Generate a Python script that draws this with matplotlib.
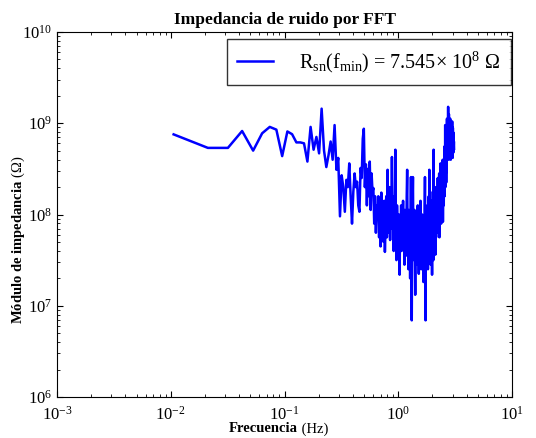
import matplotlib
matplotlib.use("Agg")
import matplotlib.pyplot as plt
import numpy as np

# FFT bin spacing (Hz) and |Z| per bin as log10 values
df = 0.0106
log_z = [
    # low frequencies
    8.878, 8.73, 8.73, 8.915, 8.70, 8.89, 8.96, 8.93, 8.64, 8.91, 8.88, 8.79, 8.79,
    8.78, 8.58, 8.96, 8.71, 8.85, 8.67, 9.16, 8.70, 8.52, 8.65, 8.80, 8.60, 8.98,
    8.49, 8.62, 7.98, 8.43, 8.30, 8.03, 8.38, 8.30, 8.56, 8.20, 7.90, 8.25, 8.45,
    8.30, 8.36, 8.10, 8.03, 8.51, 8.40, 8.83,
    # ~0.5 - 1 Hz
    8.94, 8.30, 8.55, 8.10, 8.50, 8.20, 8.58, 8.05, 8.45, 8.25, 8.29, 7.90, 8.20,
    7.80, 8.10, 7.95,
    8.20, 7.75, 8.05, 7.65, 8.24, 7.85, 8.00, 7.70, 8.15, 7.59, 7.90, 8.20, 7.75,
    8.49, 7.95, 7.80,
    8.30, 7.72, 8.10, 7.85, 8.63, 7.90, 8.05, 7.60, 8.20, 7.95, 8.71, 7.80, 7.50,
    8.10, 7.85, 8.00, 7.70,
    # ~1 - 1.3 Hz
    7.90, 7.34, 8.00, 7.70, 8.10, 7.60, 7.95, 7.80, 8.15, 7.65, 7.85, 7.45, 8.05,
    7.75, 7.95, 7.55, 8.20, 8.49, 7.70, 7.90, 7.40, 8.05, 7.60, 7.85, 7.30, 7.95,
    8.41, 7.75,
    # ~1.3 - 1.7 Hz
    6.84, 7.80, 8.10, 8.41, 7.70, 7.95, 7.50, 8.05, 7.65, 7.12, 7.85, 7.60, 8.00,
    7.45, 7.90, 7.70, 8.10, 7.55, 7.80, 7.35, 7.95, 7.65, 7.85, 7.50, 8.15, 7.70,
    7.40, 7.90, 7.60, 8.00, 7.75, 7.45, 7.85, 7.26, 7.70, 7.95, 7.55, 8.05, 8.41,
    7.65,
    # ~1.7 - 2.2 Hz
    6.84, 7.70, 8.00, 7.50, 7.85, 7.60, 8.10, 7.75, 7.40, 7.95, 7.65, 8.20, 7.80,
    8.49, 7.55, 7.90, 7.70, 8.05, 7.45, 7.85, 7.60, 8.15, 7.75, 7.34, 7.95, 7.65,
    8.25, 7.80, 7.50, 8.71, 7.90, 7.70, 8.10, 7.60, 7.85, 8.30, 7.56, 7.95, 8.20,
    7.75, 8.05, 7.85,
    # ~2.2 - 2.65 Hz
    8.10, 7.80, 8.25, 7.95, 8.40, 7.85, 8.15, 7.90, 8.30, 8.00, 8.45, 7.75, 8.20,
    8.05, 8.35, 7.95, 8.56, 8.10, 8.25, 7.90, 8.40, 8.15, 8.50, 8.00, 8.30, 8.20,
    8.60, 7.92, 8.35, 8.25, 8.55, 8.10, 8.45, 8.30, 8.65, 8.20, 8.75, 8.40, 8.98,
    8.30, 8.60, 8.45, 8.80, 8.35, 8.70,
    # ~2.65 - 3.1 Hz
    8.90, 8.60, 9.05, 8.75, 8.95, 8.65, 9.00, 8.80, 9.18, 8.70, 8.95, 8.60, 9.10,
    8.85, 8.75, 9.00, 8.65, 8.90, 8.80, 9.05, 8.70, 8.95, 8.60, 8.85, 9.00, 8.75,
    8.90, 8.65, 8.95, 8.80, 9.02, 8.70, 8.88, 8.62, 8.95, 8.78, 8.90, 8.68, 8.85,
    8.75, 8.80, 8.72,
]
r_sn = 7.545e8

freq = df * np.arange(1, len(log_z) + 1)
z = 10 ** np.array(log_z)

plt.rcParams['font.family'] = 'Liberation Serif'
plt.rcParams['mathtext.fontset'] = 'custom'
plt.rcParams['mathtext.rm'] = 'Liberation Serif'
plt.rcParams['mathtext.it'] = 'Liberation Serif:italic'
plt.rcParams['mathtext.bf'] = 'Liberation Serif:bold'

fig = plt.figure(figsize=(5.36, 4.38), dpi=100)
ax = fig.add_axes([57 / 536, 41 / 438, 455 / 536, 365 / 438])

label = r'R$_{\rm sn}$(f$_{\rm min}$) = %.3f$\times$ 10$^{8}$ $\Omega$' % (r_sn / 1e8)
ax.loglog(freq, z, color='#0000ff', lw=1.8, label=label)

ax.set_xlim(1e-3, 1e1)
ax.set_ylim(1e6, 1e10)
ax.tick_params(which='both', direction='in', top=True, right=True, labelsize=12)
ax.tick_params(axis='x', which='major', pad=6)
ax.tick_params(which='major', length=4)
ax.tick_params(which='minor', length=2)

ax.set_title('Impedancia de ruido por FFT', fontsize=12.5, fontweight='bold', pad=6)

# x label: bold word plus plain unit, as two plain texts
fig.text(298 / 536, 9 / 438, 'Frecuencia', fontsize=10.5, fontweight='bold',
         ha='right', va='center')
fig.text(298 / 536, 9 / 438, ' (Hz)', fontsize=10.5, ha='left', va='center')

ax.set_ylabel('$\\mathbf{M\u00f3dulo\\ de\\ impedancia}$ (\u03a9)', fontsize=10.5)
ax.yaxis.set_label_coords(-0.066, 0.43)

leg = ax.legend(loc='upper right', bbox_to_anchor=(0.997, 0.98), fontsize=14.5,
                fancybox=False, frameon=True, edgecolor='black',
                handlelength=1.8, handletextpad=1.3, borderpad=0.5,
                borderaxespad=0)
leg.get_frame().set_linewidth(1.0)

fig.savefig('out.png', dpi=100)
